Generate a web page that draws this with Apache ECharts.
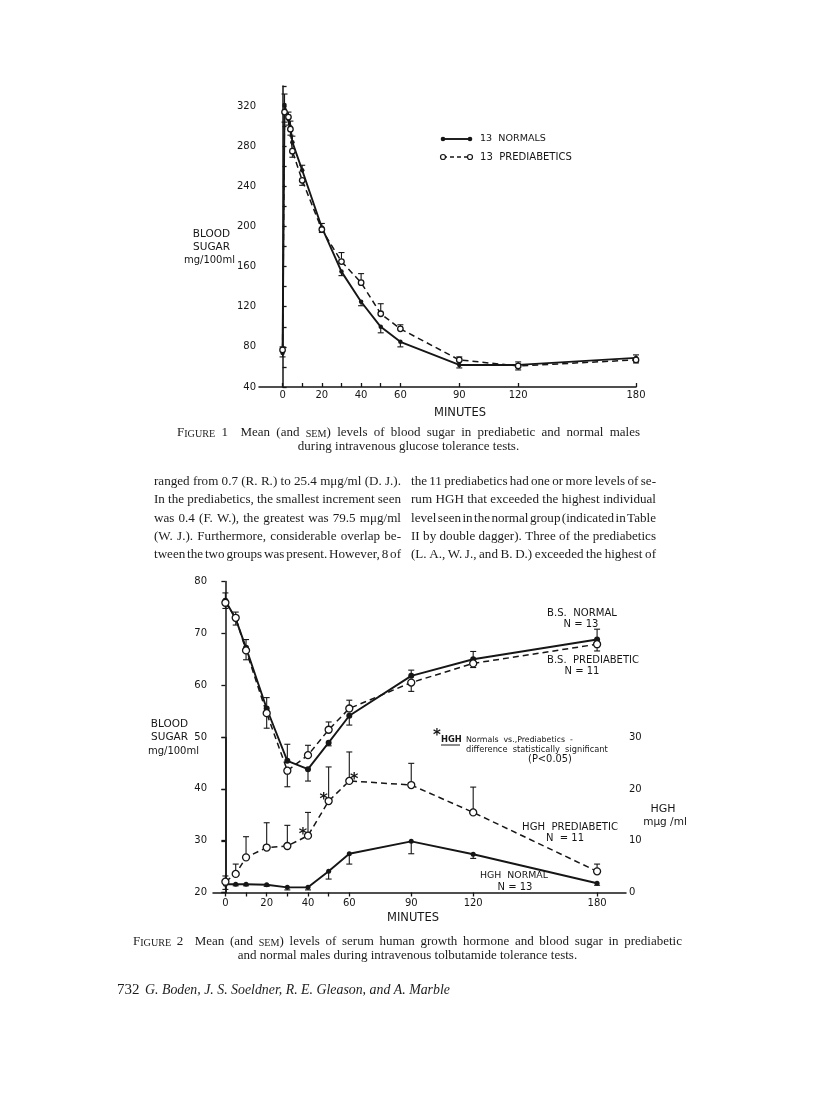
<!DOCTYPE html>
<html>
<head>
<meta charset="utf-8">
<title>Blood sugar and HGH, prediabetic vs normal</title>
<script src="https://cdn.jsdelivr.net/npm/echarts@6.0.0/dist/echarts.min.js"></script>
<style>
  html, body { margin: 0; background: #fff; }
  #page { width: 816px; height: 1100px; }
</style>
</head>
<body>
<div id="page"></div>
<script>
  // ---- figure 1: IV glucose tolerance, blood sugar mg/100ml
  const fig1Minutes = [0, 1, 3, 4, 5, 10, 20, 30, 40, 50, 60, 90, 120, 180];
  const fig1Normal = [74, 321, 307, 299, 284, 256, 199, 155, 125, 100, 85, 62, 62, 69];
  const fig1NormalSem = [4, 11, 6, 6, 6, 5, 4, 4, 4, 6, 5, 3, 3, 3];
  const fig1Prediab = [77, 314, 309, 297, 275, 246, 197, 165, 144, 113, 98, 67, 61, 67];
  const fig1PrediabSem = [3, 10, 5, 6, 6, 5, 3, 9, 9, 10, 4, 3, 4, 3];

  // ---- figure 2: IV tolbutamide, blood sugar (left) and HGH mμg/ml (right)
  const fig2Minutes = [0, 5, 10, 20, 30, 40, 50, 60, 90, 120, 180];
  const bsNormal = [76.3, 72.8, 67.2, 55.5, 45.4, 43.8, 48.9, 54.1, 61.8, 65.0, 68.8];
  const bsNormalSem = [1.5, 1.2, 1.6, 2.1, 3.2, 2.3, 0.6, 1.8, 1.1, 1.5, 2.0];
  const bsPrediab = [75.9, 73.0, 66.7, 54.6, 43.5, 46.5, 51.4, 55.5, 60.5, 64.2, 67.9];
  const bsPrediabSem = [1.1, 1.1, 1.8, 2.9, 3.1, 1.9, 1.5, 1.6, 1.7, 0.8, 1.3];
  const hghNormal = [1.6, 1.6, 1.6, 1.5, 1.0, 1.0, 4.1, 7.5, 9.9, 7.4, 1.8];
  const hghNormalSem = [1.0, 0.3, 0.3, 0.3, 0.5, 0.5, 1.5, 2.0, 2.4, 0.8, 0.4];
  const hghPrediab = [2.1, 3.6, 6.8, 8.7, 9.0, 11.0, 17.7, 21.6, 20.8, 15.5, 4.1];
  const hghPrediabSem = [1.1, 1.9, 4.0, 4.8, 4.0, 4.5, 6.6, 5.6, 4.2, 4.9, 1.4];
  const hghSignificant = [40, 50, 60];

  const minuteTicks = [0, 10, 20, 30, 40, 50, 60, 90, 120, 180];
  const minuteLabels = [0, 20, 40, 60, 90, 120, 180];

  const ink = '#161616';
  const sans = 'DejaVu Sans';
  const serif = 'Liberation Serif';

  // measuring text so the printed lines can be justified like the journal page
  const mctx = document.createElement('canvas').getContext('2d');
  function measure(str, font) {
    mctx.font = font;
    return mctx.measureText(str).width;
  }
  function fitSize(str, family, width, weight) {
    const w = measure(str, (weight || 'normal') + ' 10px "' + family + '"');
    return 10 * width / w;
  }

  function txt(x, y, str, size, extra) {
    return {
      type: 'text', x: x, y: y, silent: true,
      style: Object.assign({
        text: str, fontSize: size, fontFamily: sans, fill: ink,
        align: 'left', verticalAlign: 'middle'
      }, extra || {})
    };
  }

  // word pieces; words starting with ~ are set in small caps
  function pieces(word, size, family, style) {
    const out = [];
    if (word[0] !== '~') {
      out.push({ s: word, size: size });
    } else {
      for (const ch of word.slice(1)) {
        const small = ch >= 'a' && ch <= 'z';
        out.push({ s: small ? ch.toUpperCase() : ch, size: small ? size * 0.78 : size });
      }
    }
    out.forEach(p => { p.font = (style || '') + ' ' + p.size.toFixed(2) + 'px "' + family + '"'; p.w = measure(p.s, p.font); });
    return out;
  }

  function lineEls(line, x0, x1, y, size, family, style, mode) {
    const words = line.split(' ').map(w => pieces(w, size, family, style));
    const widths = words.map(ps => ps.reduce((a, p) => a + p.w, 0));
    const total = widths.reduce((a, b) => a + b, 0);
    const space = measure(' ', (style || '') + ' ' + size.toFixed(2) + 'px "' + family + '"');
    let gap = space, x = x0;
    if (mode === 'justify') gap = (x1 - x0 - total) / (words.length - 1);
    else if (mode === 'center') x = (x0 + x1) / 2 - (total + space * (words.length - 1)) / 2;
    const els = [];
    words.forEach((ps) => {
      ps.forEach(p => {
        // baseline shared by full and small capitals
        els.push({ type: 'text', x: x, y: y + (size - p.size) * 0.36, silent: true,
          style: { text: p.s, font: p.font, fill: '#1c1c1c', verticalAlign: 'middle' } });
        x += p.w;
      });
      x += gap;
    });
    return els;
  }

  function curve(name, xs, ys, filled, xi, yi, size) {
    return {
      type: 'line', name: name, xAxisIndex: xi, yAxisIndex: yi,
      data: xs.map((t, i) => [t, ys[i]]),
      symbol: 'circle', symbolSize: size, z: 4,
      itemStyle: { color: filled ? ink : '#fff', borderColor: ink, borderWidth: filled ? 0 : 1.3 },
      lineStyle: { color: ink, width: filled ? 1.9 : 1.5, type: filled ? 'solid' : [6, 4] },
      emphasis: { disabled: true }
    };
  }

  // one-sided SEM bars, drawn away from the other group's curve
  function semBars(xs, ys, sems, other, xi, yi) {
    return {
      type: 'custom', xAxisIndex: xi, yAxisIndex: yi, z: 2, silent: true,
      data: xs.map((t, i) => [t, ys[i], (ys[i] >= other[i] ? 1 : -1) * sems[i]]),
      renderItem: function (params, api) {
        const p = api.coord([api.value(0), api.value(1)]);
        const q = api.coord([api.value(0), api.value(1) + api.value(2)]);
        const st = { stroke: ink, lineWidth: 1.1 };
        return { type: 'group', children: [
          { type: 'line', shape: { x1: p[0], y1: p[1], x2: q[0], y2: q[1] }, style: st },
          { type: 'line', shape: { x1: q[0] - 3, y1: q[1], x2: q[0] + 3, y2: q[1] }, style: st }
        ] };
      }
    };
  }

  const axisLine = { lineStyle: { color: ink, width: 1.5 } };
  const tickStyle = { color: ink, width: 1.3 };
  const tickFont = { fontSize: 10, color: ink, fontFamily: sans };

  const hghPredSeries = curve('HGH prediabetic', fig2Minutes, hghPrediab, false, 2, 2, 7);
  hghPredSeries.markPoint = {
    symbol: 'circle', symbolSize: 1, silent: true,
    itemStyle: { color: 'transparent' },
    label: { show: true, formatter: '*', fontSize: 16, fontWeight: 'bold', color: ink, position: 'inside' },
    data: hghSignificant.map((t, k) => ({
      coord: [t, hghPrediab[fig2Minutes.indexOf(t)]],
      label: { offset: k === hghSignificant.length - 1 ? [5, -1] : [-5, -1] }
    }))
  };

  // ---- page text
  const g = [];
  // figure 1 labels
  g.push(txt(230, 234, 'BLOOD', 10.5, { align: 'right' }), txt(230, 247, 'SUGAR', 10.5, { align: 'right' }),
         txt(235, 260, 'mg/100ml', 10, { align: 'right' }));
  g.push(txt(460, 413, 'MINUTES', 11.5, { align: 'center' }));
  // legend of figure 1
  g.push({ type: 'line', shape: { x1: 443, y1: 139, x2: 470, y2: 139 }, style: { stroke: ink, lineWidth: 1.9 } });
  g.push({ type: 'circle', shape: { cx: 443, cy: 139, r: 2.3 }, style: { fill: ink } });
  g.push({ type: 'circle', shape: { cx: 470, cy: 139, r: 2.3 }, style: { fill: ink } });
  g.push({ type: 'line', shape: { x1: 443, y1: 157, x2: 470, y2: 157 }, style: { stroke: ink, lineWidth: 1.5, lineDash: [4, 3] } });
  g.push({ type: 'circle', shape: { cx: 443, cy: 157, r: 2.5 }, style: { fill: '#fff', stroke: ink, lineWidth: 1.2 }, z: 10 });
  g.push({ type: 'circle', shape: { cx: 470, cy: 157, r: 2.5 }, style: { fill: '#fff', stroke: ink, lineWidth: 1.2 }, z: 10 });
  g.push(txt(480, 139, '13  NORMALS', fitSize('13  NORMALS', sans, 66)));
  g.push(txt(480, 157, '13  PREDIABETICS', fitSize('13  PREDIABETICS', sans, 92)));

  // caption 1
  const capSize = 13;
  g.push(...lineEls('~Figure 1  Mean (and ~sem) levels of blood sugar in prediabetic and normal males', 177, 640, 433, capSize, serif, '', 'justify'));
  g.push(...lineEls('during intravenous glucose tolerance tests.', 177, 640, 447, capSize, serif, '', 'center'));

  // body text, two justified columns
  const leftCol = [
    'ranged from 0.7 (R. R.) to 25.4 mμg/ml (D. J.).',
    'In the prediabetics, the smallest increment seen',
    'was 0.4 (F. W.), the greatest was 79.5 mμg/ml',
    '(W. J.). Furthermore, considerable overlap be-',
    'tween the two groups was present. However, 8 of'
  ];
  const rightCol = [
    'the 11 prediabetics had one or more levels of se-',
    'rum HGH that exceeded the highest individual',
    'level seen in the normal group (indicated in Table',
    'II by double dagger). Three of the prediabetics',
    '(L. A., W. J., and B. D.) exceeded the highest of'
  ];
  const bodyY = [482, 500, 518.5, 537, 555];
  leftCol.forEach((l, i) => g.push(...lineEls(l, 154, 401, bodyY[i], 13.1, serif, '', 'justify')));
  rightCol.forEach((l, i) => g.push(...lineEls(l, 411, 656, bodyY[i], 13.1, serif, '', 'justify')));

  // figure 2 labels
  g.push(txt(188, 724, 'BLOOD', 10.5, { align: 'right' }), txt(188, 737, 'SUGAR', 10.5, { align: 'right' }),
         txt(199, 751, 'mg/100ml', 10, { align: 'right' }));
  g.push(txt(413, 918, 'MINUTES', 11.5, { align: 'center' }));
  g.push(txt(663, 809, 'HGH', 11, { align: 'center' }));
  g.push(txt(665, 822, 'mμg /ml', 10.5, { align: 'center' }));
  g.push(txt(582, 613, 'B.S.  NORMAL', fitSize('B.S.  NORMAL', sans, 70), { align: 'center' }));
  g.push(txt(581, 624, 'N = 13', 10, { align: 'center' }));
  g.push(txt(593, 660, 'B.S.  PREDIABETIC', fitSize('B.S.  PREDIABETIC', sans, 92), { align: 'center' }));
  g.push(txt(582, 671, 'N = 11', 10, { align: 'center' }));
  g.push(txt(570, 827, 'HGH  PREDIABETIC', fitSize('HGH  PREDIABETIC', sans, 96), { align: 'center' }));
  g.push(txt(565, 838, 'N  = 11', 10, { align: 'center' }));
  g.push(txt(514, 876, 'HGH  NORMAL', fitSize('HGH  NORMAL', sans, 68), { align: 'center' }));
  g.push(txt(515, 887, 'N = 13', 10, { align: 'center' }));
  // significance note
  g.push(txt(437, 736, '*', 15, { align: 'center', fontWeight: 'bold' }));
  g.push(txt(441, 740, 'HGH', fitSize('HGH', sans, 19), { fontWeight: 'bold' }));
  g.push({ type: 'line', shape: { x1: 441, y1: 745, x2: 460, y2: 745 }, style: { stroke: ink, lineWidth: 1 } });
  g.push(txt(466, 740, 'Normals  vs.,Prediabetics  -', fitSize('Normals  vs.,Prediabetics  -', sans, 107)));
  g.push(txt(466, 749.5, 'difference  statistically  significant', fitSize('difference  statistically  significant', sans, 142)));
  g.push(txt(550, 759, '(P<0.05)', fitSize('(P<0.05)', sans, 44), { align: 'center' }));

  // caption 2
  g.push(...lineEls('~Figure 2  Mean (and ~sem) levels of serum human growth hormone and blood sugar in prediabetic', 133, 682, 942, capSize, serif, '', 'justify'));
  g.push(...lineEls('and normal males during intravenous tolbutamide tolerance tests.', 133, 682, 956, capSize, serif, '', 'center'));

  // running footer
  g.push({ type: 'text', x: 117, y: 990, silent: true, style: { text: '732', font: '15px "' + serif + '"', fill: '#1c1c1c', verticalAlign: 'middle' } });
  const authors = 'G. Boden, J. S. Soeldner, R. E. Gleason, and A. Marble';
  const authorSize = fitSize(authors, serif, 305, 'italic');
  g.push({ type: 'text', x: 145, y: 990, silent: true, style: { text: authors, font: 'italic ' + authorSize.toFixed(2) + 'px "' + serif + '"', fill: '#1c1c1c', verticalAlign: 'middle' } });

  const chart = echarts.init(document.getElementById('page'), null, { renderer: 'canvas', width: 816, height: 1100 });
  chart.setOption({
    backgroundColor: '#fff',
    animation: false,
    textStyle: { fontFamily: sans, color: ink },
    grid: [
      { left: 259, top: 86, width: 377, height: 301, outerBoundsMode: 'none' },
      { left: 213, top: 581.5, width: 413, height: 311, outerBoundsMode: 'none' },
      { left: 213, top: 737.5, width: 413, height: 155, outerBoundsMode: 'none' }
    ],
    xAxis: [
      {
        gridIndex: 0, type: 'value', min: -12, max: 180,
        axisLine: axisLine, splitLine: { show: false },
        axisTick: { inside: true, length: 4, lineStyle: tickStyle, customValues: minuteTicks },
        axisLabel: Object.assign({ margin: 3, customValues: minuteLabels }, tickFont)
      },
      {
        gridIndex: 1, type: 'value', min: -6, max: 194,
        axisLine: axisLine, splitLine: { show: false },
        axisTick: { inside: false, length: 4, lineStyle: tickStyle, customValues: minuteTicks },
        axisLabel: Object.assign({ margin: 6, customValues: minuteLabels }, tickFont)
      },
      { gridIndex: 2, type: 'value', min: -6, max: 194, show: false }
    ],
    yAxis: [
      {
        gridIndex: 0, type: 'value', min: 40, max: 340, interval: 20,
        axisLine: { show: true, lineStyle: { color: ink, width: 1.5 } }, splitLine: { show: false },
        axisTick: { show: true, inside: true, length: 4, lineStyle: tickStyle },
        axisLabel: Object.assign({ margin: 3, formatter: v => (v % 40 === 0 && v < 340 ? v : '') }, tickFont)
      },
      {
        gridIndex: 1, type: 'value', min: 20, max: 80, interval: 10,
        axisLine: { show: true, lineStyle: { color: ink, width: 1.5 } }, splitLine: { show: false },
        axisTick: { show: true, inside: false, length: 4, lineStyle: tickStyle },
        axisLabel: Object.assign({ margin: 6 }, tickFont)
      },
      {
        gridIndex: 2, type: 'value', position: 'right', min: 0, max: 30, interval: 10,
        axisLine: { show: true, lineStyle: { color: ink, width: 1.5 } }, splitLine: { show: false },
        axisTick: { show: true, inside: true, length: 4, lineStyle: tickStyle },
        axisLabel: Object.assign({ margin: 3 }, tickFont)
      }
    ],
    series: [
      semBars(fig1Minutes, fig1Normal, fig1NormalSem, fig1Prediab, 0, 0),
      semBars(fig1Minutes, fig1Prediab, fig1PrediabSem, fig1Normal, 0, 0),
      curve('13 NORMALS', fig1Minutes, fig1Normal, true, 0, 0, 4.5),
      curve('13 PREDIABETICS', fig1Minutes, fig1Prediab, false, 0, 0, 5.5),

      semBars(fig2Minutes, bsNormal, bsNormalSem, bsPrediab, 1, 1),
      semBars(fig2Minutes, bsPrediab, bsPrediabSem, bsNormal, 1, 1),
      curve('B.S. normal', fig2Minutes, bsNormal, true, 1, 1, 6),
      curve('B.S. prediabetic', fig2Minutes, bsPrediab, false, 1, 1, 7),

      semBars(fig2Minutes, hghNormal, hghNormalSem, hghPrediab, 2, 2),
      semBars(fig2Minutes, hghPrediab, hghPrediabSem, hghNormal, 2, 2),
      curve('HGH normal', fig2Minutes, hghNormal, true, 2, 2, 5),
      hghPredSeries
    ],
    graphic: g
  });
</script>
</body>
</html>
